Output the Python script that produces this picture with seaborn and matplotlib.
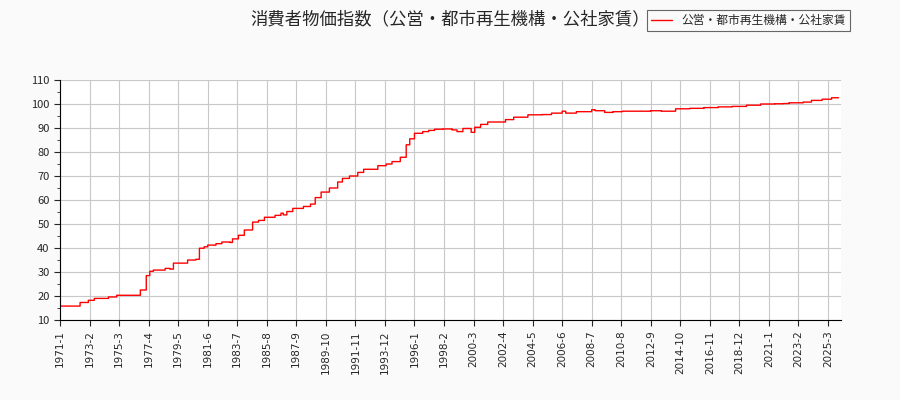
import matplotlib
matplotlib.use("Agg")
import matplotlib.pyplot as plt
import seaborn as sns
import pandas as pd
import numpy as np
from matplotlib.ticker import MultipleLocator

sns.set_style("whitegrid")
plt.rcParams['font.family'] = ['Noto Sans CJK JP', 'DejaVu Sans']

title = "消費者物価指数（公営・都市再生機構・公社家賃）"
series_name = "公営・都市再生機構・公社家賃"

change_dates = ["1971-1","1972-6","1973-1","1973-6","1974-6","1975-1","1976-9","1977-2","1977-5","1977-8",
"1978-6","1978-10","1979-1","1980-1","1980-8","1980-11","1981-3","1981-6","1982-1","1982-6","1983-1",
"1983-3","1983-8","1984-1","1984-8","1985-1","1985-6","1986-3","1986-8","1986-10","1987-1","1987-6",
"1988-3","1988-9","1989-1","1989-6","1990-1","1990-8","1990-12","1991-6","1992-1","1992-6","1993-6",
"1994-1","1994-6","1995-1","1995-6","1995-9","1996-1","1996-8","1997-1","1997-6","1998-1","1998-9",
"1999-1","1999-6","2000-1","2000-4","2000-9","2001-3","2002-6","2003-1","2004-1","2005-1","2005-9",
"2006-6","2006-9","2007-6","2008-7","2008-10","2009-6","2010-1","2010-9","2012-9","2013-6","2014-6",
"2015-6","2016-6","2017-6","2018-6","2019-6","2020-6","2021-6","2022-1","2022-6","2023-6","2024-1",
"2024-10","2025-6"]
change_values = [15.8,17.3,18.2,19.0,19.6,20.3,22.5,28.5,30.3,30.8,
31.5,31.2,33.7,35.0,35.3,39.9,40.5,41.2,41.8,42.5,42.3,
43.8,45.3,47.5,50.8,51.5,52.8,53.6,54.5,53.8,55.2,56.5,
57.3,58.3,61.0,63.3,65.0,67.5,69.0,70.0,71.5,72.8,74.3,
75.0,76.0,77.8,83.0,85.5,87.8,88.5,89.0,89.5,89.6,89.2,
88.5,89.8,88.2,90.3,91.5,92.5,93.5,94.5,95.5,95.6,96.2,
97.0,96.2,96.8,97.6,97.2,96.5,96.8,97.0,97.2,97.0,98.0,
98.2,98.5,98.8,99.0,99.5,100.0,100.1,100.2,100.5,100.8,101.5,
102.0,102.6]
end_label = "2025-12"

def midx(s):
    y, m = s.split("-")
    return (int(y) - 1971) * 12 + int(m) - 1

n = midx(end_label) + 1
labels = [f"{1971 + i // 12}-{i % 12 + 1}" for i in range(n)]
vals = pd.Series(np.nan, index=range(n))
for d, v in zip(change_dates, change_values):
    vals[midx(d)] = v
vals = vals.ffill()
df = pd.DataFrame({"idx": range(n), "value": vals.values, "label": labels})

fig = plt.figure(figsize=(9, 4), dpi=100, facecolor="#fafafa")
ax = fig.add_axes([60/900, 80/400, 781/900, 240/400])
ax.set_facecolor("white")
sns.lineplot(data=df, x="idx", y="value", ax=ax, color="red", linewidth=1,
             drawstyle="steps-post", legend=False)
ax.set_xlim(0, n + 1)
ax.set_ylim(10, 110)
ax.yaxis.set_major_locator(MultipleLocator(10))
ax.yaxis.set_minor_locator(MultipleLocator(5))
ticks = list(range(0, n, 25))
ax.set_xticks(ticks)
ax.set_xticklabels([labels[i] for i in ticks], rotation=90, fontsize=7.5, family=['DejaVu Sans'])
ax.tick_params(axis='y', labelsize=8)
ax.tick_params(which='both', direction='out', length=4, left=True, bottom=True)
ax.tick_params(which='minor', length=2)
ax.set_xlabel(""); ax.set_ylabel("")
ax.grid(True, color="#c8c8c8", linewidth=0.8)
for s in ["top", "right"]:
    ax.spines[s].set_visible(False)
for s in ["left", "bottom"]:
    ax.spines[s].set_color("black")
fig.text(450/900, 1 - 19/400, title, ha="center", va="center", fontsize=12.5, zorder=1)
leg = fig.legend(handles=ax.get_lines()[:1], labels=[series_name], loc="upper right",
                 bbox_to_anchor=(856/900, 1 - 4/400), fontsize=8.5, frameon=True, fancybox=False,
                 edgecolor="#666666", facecolor="#fafafa", framealpha=1, handlelength=1.8,
                 borderpad=0.35)
leg.set_zorder(10)
leg.get_frame().set_linewidth(0.8)
fig.savefig("out.png", dpi=100, facecolor=fig.get_facecolor())
